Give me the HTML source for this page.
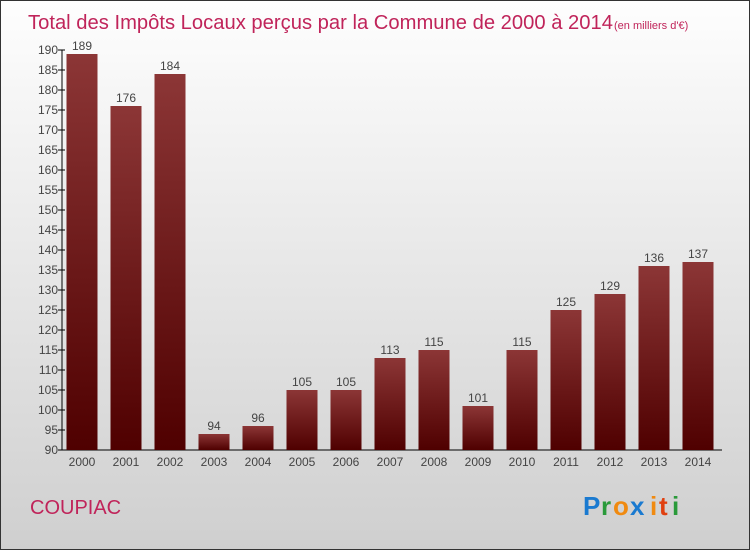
<!DOCTYPE html>
<html><head><meta charset="utf-8"><style>
body{margin:0;width:750px;height:550px;overflow:hidden;font-family:"Liberation Sans",sans-serif}
</style></head><body>
<svg width="750" height="550" xmlns="http://www.w3.org/2000/svg">
<defs>
<linearGradient id="bg" x1="0" y1="0" x2="0" y2="1"><stop offset="0" stop-color="#fefefe"/><stop offset="1" stop-color="#cfcfcf"/></linearGradient>
<linearGradient id="bar" x1="0" y1="0" x2="0" y2="1"><stop offset="0" stop-color="#8c3636"/><stop offset="1" stop-color="#4f0000"/></linearGradient>
</defs>
<rect x="0.5" y="0.5" width="749" height="549" fill="url(#bg)" stroke="#333"/>
<text x="28" y="29" font-size="20" fill="#c0245a"><tspan textLength="585" lengthAdjust="spacingAndGlyphs">Total des Impôts Locaux perçus par la Commune de 2000 à 2014</tspan><tspan font-size="11" dx="1">(en milliers d'€)</tspan></text>
<g id="axes"></g>
<g id="bars"></g>
<text x="30" y="514" font-size="20" fill="#c0245a">COUPIAC</text>
<g font-size="26" font-weight="bold">
<text x="583" y="515" fill="#1a7ad0">P</text><text x="601" y="515" fill="#2a9a3a">r</text><text x="613" y="515" fill="#f08a10">o</text><text x="630" y="515" fill="#1a7ad0">x</text><text x="650" y="515" fill="#f08a10">i</text><text x="659" y="515" fill="#e04010">t</text><text x="672" y="515" fill="#2a9a3a">i</text>
</g>
</svg>
<script>
const years=["2000","2001","2002","2003","2004","2005","2006","2007","2008","2009","2010","2011","2012","2013","2014"];
const values=[189,176,184,94,96,105,105,113,115,101,115,125,129,136,137];
const yTicks=[90,95,100,105,110,115,120,125,130,135,140,145,150,155,160,165,170,175,180,185,190];
const NS="http://www.w3.org/2000/svg";
const yMin=90,yMax=190,plotTop=50,plotBot=450,x0=62,step=44;
const yS=v=>plotBot-(v-yMin)/(yMax-yMin)*(plotBot-plotTop);
const xc=i=>82+i*step;
function mk(t,a,p){const e=document.createElementNS(NS,t);for(const k in a)e.setAttribute(k,a[k]);p.appendChild(e);return e;}
const ax=document.getElementById('axes'),bg=document.getElementById('bars');
let l=mk('line',{x1:x0,y1:plotTop,x2:x0,y2:plotBot,stroke:'#000'},ax);


l=mk('line',{x1:x0,y1:plotBot,x2:722,y2:plotBot,stroke:'#000'},ax);


yTicks.forEach(v=>{
 mk('line',{x1:x0-4,y1:yS(v),x2:x0+3,y2:yS(v),stroke:'#000'},ax);
 const t=mk('text',{x:x0-4,y:yS(v)+4,'text-anchor':'end','font-size':12,fill:'#444'},ax);
 t.textContent=v;
 
 
});
years.forEach((yr,i)=>{
 const v=values[i];
 const r=mk('rect',{x:xc(i)-15.5,y:yS(v),width:31,height:plotBot-yS(v),fill:'url(#bar)'},bg);
 
 
 const t=mk('text',{x:xc(i),y:yS(v)-4,'text-anchor':'middle','font-size':12,fill:'#444'},bg);
 t.textContent=v;
 
 
 const xl=mk('text',{x:xc(i),y:466,'text-anchor':'middle','font-size':12,fill:'#444'},bg);
 xl.textContent=yr;
 
 
});
</script>
</body></html>
